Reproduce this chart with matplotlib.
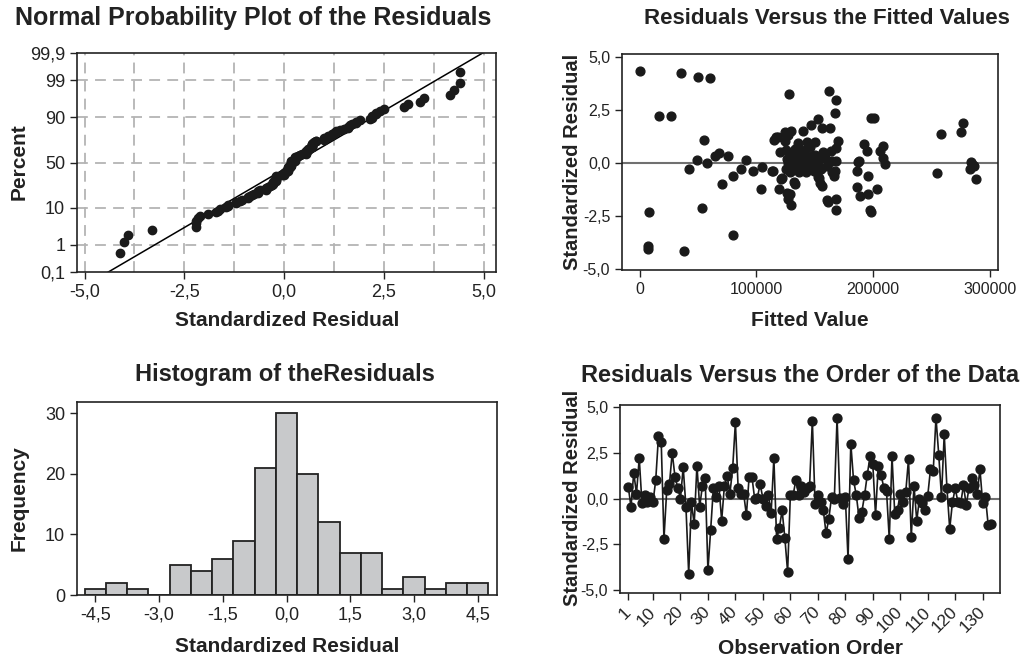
import numpy as np
import matplotlib
matplotlib.use("Agg")
import matplotlib.pyplot as plt
from statistics import NormalDist

plt.rcParams['font.family'] = ['Liberation Sans', 'DejaVu Sans']

# residuals in observation order
residuals = [0.65, -0.45, 1.4, 0.27, 2.2, -0.27, 0.18, -0.2, 0.1, -0.2,
             1.0, 3.4, 3.1, -2.2, 0.45, 0.8, 2.5, 1.2, 0.6, 0.0,
             1.7, -0.45, -4.1, -0.2, -1.4, 1.8, -0.45, 0.7, 1.1, -3.9,
             -1.7, 0.6, 0.1, 0.7, -1.2, 0.7, 1.25, 0.27, 1.65, 4.15,
             0.55, 0.27, 0.27, -0.9, 1.2, 1.2, 0.0, 0.05, 0.8, 0.0,
             -0.4, 0.18, -0.8, 2.2, -2.2, -1.6, -0.65, -2.15, -4.0, 0.18,
             0.18, 1.0, 0.18, 0.7, 0.35, 0.55, 0.7, 4.25, -0.3, 0.18,
             -0.2, -0.65, -1.9, -1.1, 0.1, -0.05, 4.4, 0.05, -0.3, 0.1,
             -3.3, 3.0, 1.0, 0.18, -1.05, -0.75, 0.18, 1.3, 2.3, 1.9,
             -0.9, 1.8, 1.3, 0.6, 0.4, -2.2, 2.3, -0.85, -0.6, 0.27,
             -0.2, 0.35, 2.15, -2.1, 0.7, -1.2, 0.0, -0.25, -0.65, 0.15,
             1.6, 1.5, 4.4, 2.4, 0.1, 3.5, 0.55, -1.65, -0.2, 0.55,
             -0.2, -0.27, 0.72, -0.35, 0.55, 1.1, 0.75, 0.27, 1.6, -0.27,
             0.1, -1.45, -1.4]

# residuals vs fitted values
fitted = [600, 8000, 6800, 6800, 17000, 27000, 35000, 38000, 42000, 49000,
          50000, 53500, 55000, 58000, 60000, 64700, 68000, 70700, 75500, 79800,
          80000, 86600, 91000, 97000, 103700, 105000, 114000, 115000, 118800, 119000,
          122000, 124500, 128000, 127000, 128800, 130000, 133000, 139600, 147000, 150000,
          153000, 155800, 153800, 154000, 156000, 157000, 161000, 162000, 163000, 167000,
          168500, 168000, 168500, 168500, 166000, 167000, 170000, 168000, 186000, 187000,
          185700, 189000, 192000, 195000, 195700, 195700, 197000, 198500, 198500, 200500,
          203000, 206000, 208000, 208500, 210000, 255000, 257800, 275500, 277000, 284000,
          282500, 286000, 287700, 285000,
          130000, 126700, 117000, 124500, 143000, 164000, 135000, 120000, 130000, 141000,
          157000, 159000, 126000, 134500, 146000, 153000, 165000, 128000, 138000, 147000,
          160000, 129000, 136500, 142000, 165000, 121000, 132000, 153000, 113500, 126000,
          160000, 188000,
          125000, 132000, 137000, 140000, 144000, 131000, 135000, 139000, 150000, 145000,
          127000, 133000, 142000, 149000, 129000, 138000, 125000, 136000, 141000, 155000,
          162000, 146000]
fitted_resid = [4.35, -2.3, -3.9, -4.05, 2.2, 2.2, 4.25, -4.15, -0.3, 0.15,
                4.05, -2.15, 1.1, -0.03, 4.0, 0.3, 0.45, -1.0, 0.33, -0.6,
                -3.4, -0.3, 0.15, -0.4, -1.25, -0.2, -0.4, 1.1, 1.2, -1.25,
                -0.7, 1.45, 3.25, -1.7, -1.45, -2.0, -1.0, 1.5, 1.8, 1.0,
                2.05, 1.65, -0.7, -0.95, -1.1, 0.5, -1.85, 3.4, 1.65, 2.35,
                2.95, 0.7, -1.7, -2.2, -0.6, -0.4, 1.05, 0.1, -0.4, 0.05,
                -1.15, -1.55, 0.9, 0.55, -0.6, -1.45, -2.2, -2.3, 2.1, 2.1,
                -1.25, 0.55, 0.8, 0.25, -0.05, -0.5, 1.35, 1.45, 1.9, 0.05,
                -0.3, -0.15, -0.78, -0.1,
                1.48, 1.3, 1.2, 1.05, 0.96, 0.55, 0.7, 0.49, 0.4, 0.49,
                0.3, 0.24, 0.17, 0.1, 0.1, 0.02, 0.1, -0.13, -0.2, -0.2,
                -0.13, -0.44, -0.44, -0.44, -0.44, -0.75, -0.9, -0.66, -0.38, -1.4,
                -1.77, 0.1,
                0.6, 0.25, 0.35, 0.05, -0.05, -0.35, -0.1, 0.6, 0.35, 0.3,
                0.0, 0.65, 0.15, -0.4, 0.3, -0.05, -0.3, 0.95, -0.3, -0.3,
                0.05, 0.75]

# histogram bars
hist_centers = [-4.5, -4.0, -3.5, -3.0, -2.5, -2.0, -1.5, -1.0, -0.5, 0.0,
                0.5, 1.0, 1.5, 2.0, 2.5, 3.0, 3.5, 4.0, 4.5]
hist_counts = [1, 2, 1, 0, 5, 4, 6, 9, 21, 30, 20, 12, 7, 7, 1, 3, 1, 2, 2]

pct_ticks = [0.1, 1, 10, 50, 90, 99, 99.9]
pct_labels = ["0,1", "1", "10", "50", "90", "99", "99,9"]
res_ticks = [-5.0, -2.5, 0.0, 2.5, 5.0]
res_labels = ["-5,0", "-2,5", "0,0", "2,5", "5,0"]
fit_ticks = [0, 100000, 200000, 300000]
fit_labels = ["0", "100000", "200000", "300000"]
hist_ticks = [-4.5, -3.0, -1.5, 0.0, 1.5, 3.0, 4.5]
hist_labels = ["-4,5", "-3,0", "-1,5", "0,0", "1,5", "3,0", "4,5"]
freq_ticks = [0, 10, 20, 30]
order_ticks = [1, 10, 20, 30, 40, 50, 60, 70, 80, 90, 100, 110, 120, 130]

dark = '#1a1a1a'
txt = '#222222'
W, H = 1027, 663


def box(left, top, right, bottom):
    return [left / W, 1 - bottom / H, (right - left) / W, (bottom - top) / H]


def style(ax, size):
    for s in ax.spines.values():
        s.set_linewidth(1.2)
        s.set_color(txt)
    ax.tick_params(direction='out', length=5, width=1, labelsize=size,
                   colors=txt, top=False, right=False)


fig = plt.figure(figsize=(W / 100, H / 100), dpi=100)
ax1 = fig.add_axes(box(77, 53, 496, 272))
ax2 = fig.add_axes(box(622, 54, 998, 270))
ax3 = fig.add_axes(box(77, 402, 497, 595))
ax4 = fig.add_axes(box(620, 405, 1000, 593))

# normal probability plot
nd = NormalDist()
r = np.sort(np.array(residuals))
n = len(r)
pp = (np.arange(1, n + 1) - 0.3) / (n + 0.4)
zq = np.array([nd.inv_cdf(p) for p in pp])
zt = [nd.inv_cdf(p / 100) for p in pct_ticks]
mu, sd = r.mean(), r.std(ddof=1)
for xg in np.arange(-5, 5.01, 1.25):
    ax1.axvline(xg, color='#b4b4b4', lw=1.3, dashes=(6, 4), zorder=0)
for yg in zt[1:-1]:
    ax1.axhline(yg, color='#b4b4b4', lw=1.3, dashes=(6, 4), zorder=0)
zl = np.array([zt[0], zt[-1]])
ax1.plot(mu + sd * zl, zl, color='black', lw=1.1, zorder=2)
ax1.scatter(r, zq, s=36, color=dark, zorder=3)
ax1.set_xlim(-5.19, 5.31)
ax1.set_ylim(zt[0], zt[-1])
ax1.set_xticks(res_ticks, res_labels)
ax1.set_yticks(zt, pct_labels)
style(ax1, 13)

# residuals vs fitted
ax2.axhline(0, color='#707070', lw=1.5, zorder=1)
ax2.scatter(fitted, fitted_resid, s=40, color=dark, zorder=3)
ax2.set_xlim(-15100, 306800)
ax2.set_ylim(-5.05, 5.13)
ax2.set_xticks(fit_ticks, fit_labels)
ax2.set_yticks(res_ticks, res_labels)
style(ax2, 11.5)

# histogram
ax3.bar(hist_centers, hist_counts, width=0.5, color='#c8c9cb',
        edgecolor=txt, linewidth=1.3)
ax3.set_xlim(-4.93, 4.95)
ax3.set_ylim(0, 31.9)
ax3.set_xticks(hist_ticks, hist_labels)
ax3.set_yticks(freq_ticks)
style(ax3, 13)

# residuals vs order
obs = np.arange(1, len(residuals) + 1)
ax4.axhline(0, color='#707070', lw=1.5, zorder=1)
ax4.plot(obs, residuals, color=dark, lw=1.2, marker='o', ms=6.4, zorder=3)
ax4.set_xlim(-2.0, 136.3)
ax4.set_ylim(-5.15, 5.1)
ax4.set_xticks(order_ticks)
ax4.set_yticks(res_ticks, res_labels)
style(ax4, 11.5)
ax4.set_xticklabels([str(t) for t in order_ticks], rotation=45, fontsize=12.5,
                    ha='right', va='center', rotation_mode='anchor')
ax4.tick_params(axis='x', pad=7)

tkw = dict(fontweight='bold', color=txt, ha='center', va='center')
fig.text(253 / W, 1 - 18 / H, "Normal Probability Plot of the Residuals", fontsize=18, **tkw)
fig.text(827 / W, 1 - 18 / H, "Residuals Versus the Fitted Values", fontsize=16, **tkw)
fig.text(285 / W, 1 - 375 / H, "Histogram of theResiduals", fontsize=17, **tkw)
fig.text(800 / W, 1 - 375 / H, "Residuals Versus the Order of the Data", fontsize=17, **tkw)

lkw = dict(fontsize=15, fontweight='bold', color=txt, ha='center', va='center')
fig.text(287 / W, 1 - 320 / H, "Standardized Residual", **lkw)
fig.text(810 / W, 1 - 320 / H, "Fitted Value", **lkw)
fig.text(287 / W, 1 - 647 / H, "Standardized Residual", **lkw)
fig.text(810 / W, 1 - 648 / H, "Observation Order", **lkw)
fig.text(19 / W, 1 - 162 / H, "Percent", rotation=90, **lkw)
fig.text(19 / W, 1 - 498 / H, "Frequency", rotation=90, **lkw)
rkw = dict(lkw, fontsize=14.5)
fig.text(573 / W, 1 - 162 / H, "Standardized Residual", rotation=90, **rkw)
fig.text(573 / W, 1 - 498 / H, "Standardized Residual", rotation=90, **rkw)

fig.savefig("out.png", dpi=100)
